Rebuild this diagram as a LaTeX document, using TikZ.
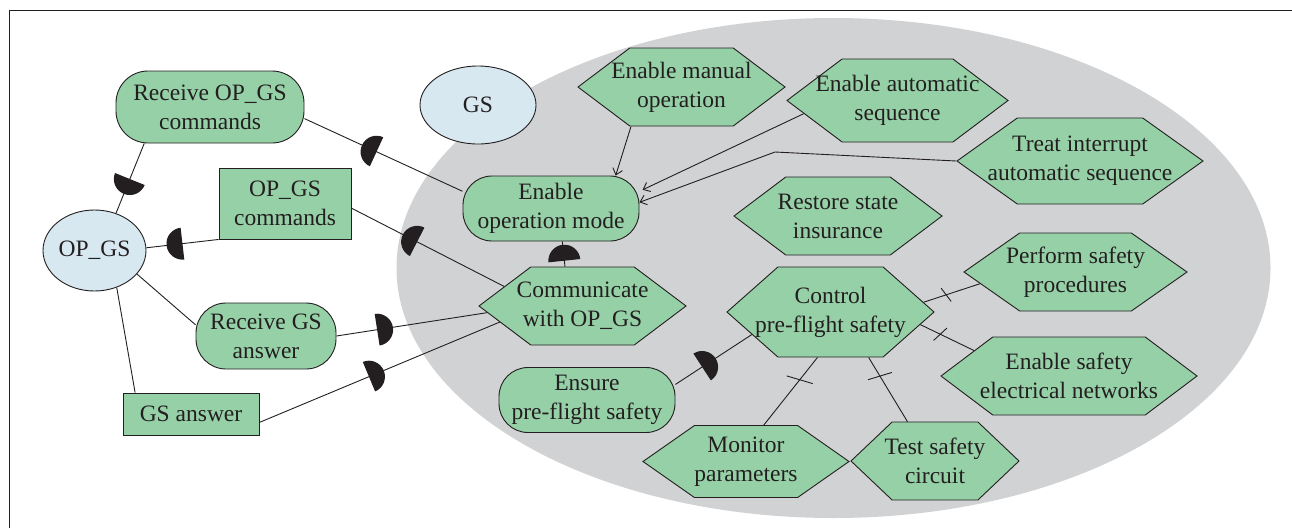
\documentclass[tikz,border=0pt]{standalone}
\usepackage{fontspec}
\setmainfont{Liberation Serif}
\usetikzlibrary{shapes.symbols,shapes.geometric,arrows.meta,decorations.markings,calc}

\definecolor{ink}{HTML}{231F20}
\definecolor{leaf}{HTML}{96D0A7}
\definecolor{sky}{HTML}{D7E8F0}
\definecolor{zone}{HTML}{D1D2D4}

% a text line that takes no width, so the goal outline keeps its own size
\newcommand\hexline[1]{\makebox[0pt]{#1}}

\pgfdeclarelayer{zonelayer}
\pgfdeclarelayer{linklayer}
\pgfsetlayers{zonelayer,linklayer,main}

\tikzset{
  nodebase/.style={draw=ink, line width=0.9pt, text=ink,
    font=\fontsize{23.5}{29}\selectfont, align=center, inner sep=0pt},
  actor/.style={nodebase, ellipse, fill=sky},
  task/.style={nodebase, rectangle, fill=leaf, rounded corners=#1},
  task/.default=29pt,
  datum/.style={nodebase, rectangle, fill=leaf},
  goal/.style={nodebase, signal, signal to=east and west, fill=leaf,
    signal pointer angle=#1},
  goal/.default=74,
  link/.style={draw=ink, line width=0.9pt},
  flow/.style={link, -{Straight Barb[length=6pt,width=10pt]}},
  cup/.style={postaction={decorate, decoration={markings,
    mark=at position #1 with {\fill[ink] (0pt,-16pt)
      arc[start angle=-90,end angle=90,radius=16pt] -- cycle;}}}},
  tickmark/.style={draw=ink, line width=0.9pt},
}

\begin{document}
\begin{tikzpicture}[x=1pt,y=-1pt]
\useasboundingbox (0,0) rectangle (1292,528);

% open frame
\draw[ink, line width=1pt] (9,528) -- (9,10) -- (1292,10);

% system boundary
\begin{pgfonlayer}{zonelayer}
  \fill[zone] (833.5,268) ellipse [x radius=437pt, y radius=250pt];
\end{pgfonlayer}

% actors
\node[actor, minimum width=103pt, minimum height=81pt] (opgs) at (94.5,250.5) {OP\_GS};
\node[actor, minimum width=116pt, minimum height=78pt] (gs) at (478,105) {GS};

% tasks and resources outside the boundary
\node[task=32pt, minimum width=188pt, minimum height=72pt] (recvcmd) at (210,107) {Receive OP\_GS\\commands};
\node[datum, minimum width=132pt, minimum height=71pt] (opcmd) at (285,203.5) {OP\_GS\\commands};
\node[task=30pt, minimum width=140pt, minimum height=66pt] (recvgs) at (266,336) {Receive GS\\answer};
\node[datum, minimum width=136pt, minimum height=42pt] (gsans) at (191,414) {GS answer};

% tasks inside the boundary
\node[task, minimum width=176pt, minimum height=65pt] (enop) at (551,208.5) {Enable\\operation mode};
\node[task, minimum width=176pt, minimum height=65pt] (ensure) at (587,400) {Ensure\\pre-flight safety};

% goals
\node[goal=74, minimum width=207pt, minimum height=78pt] (manual) at (681.5,87)
  {\hexline{Enable manual}\\\hexline{operation}};
\node[goal=74, minimum width=221pt, minimum height=83pt] (autoseq) at (897.5,100.5)
  {\hexline{Enable automatic}\\\hexline{sequence}};
\node[goal=71, minimum width=246pt, minimum height=86pt] (treat) at (1080,161)
  {\hexline{Treat interrupt}\\\hexline{automatic sequence}};
\node[goal=74, minimum width=208pt, minimum height=78pt] (restore) at (838,216)
  {\hexline{Restore state}\\\hexline{insurance}};
\node[goal=74, minimum width=207pt, minimum height=78pt] (comm) at (582.5,306)
  {\hexline{Communicate}\\\hexline{with OP\_GS}};
\node[goal=83, minimum width=207pt, minimum height=90pt] (ctl) at (830.5,312)
  {\hexline{Control}\\\hexline{pre-flight safety}};
\node[goal=70, minimum width=223pt, minimum height=78pt] (perform) at (1075.5,272)
  {\hexline{Perform safety}\\\hexline{procedures}};
\node[goal=74, minimum width=256pt, minimum height=78pt] (elec) at (1069,376)
  {\hexline{Enable safety}\\\hexline{electrical networks}};
\node[goal=70, minimum width=206pt, minimum height=72pt] (monitor) at (746,461.5)
  {\hexline{Monitor}\\\hexline{parameters}};
\node[goal=87, minimum width=168pt, minimum height=78pt] (testc) at (935,461)
  {\hexline{Test safety}\\\hexline{circuit}};

\coordinate (kink) at (775,152);

\begin{pgfonlayer}{linklayer}
  % dependencies
  \draw[link, cup=0.51] (recvcmd.209) -- (opgs.60);
  \draw[link, cup=0.544] (enop.169) -- (recvcmd.-7);
  \draw[link, cup=0.5] (opcmd.south west) -- (opgs.3);
  \draw[link, cup=0.57] (comm.166) -- (opcmd.-4);
  \draw[link, cup=6pt] (comm.114) -- (enop.-71);
  \draw[link, cup=0.27] (recvgs.east) -- (comm.184);
  \draw[link, cup=0.456] (gsans.-7) -- (comm.191);
  \draw[link, cup=0.35] (ensure.10) -- (ctl.196);
  % plain links
  \draw[link] (opgs.-29) -- (recvgs.171);
  \draw[link] (opgs.-59) -- (gsans.159);
  % contributions
  \draw[flow] (manual.218) -- (enop.27);
  \draw[flow, shorten >=3.5pt] (autoseq.188) -- (enop.11);
  \draw[flow] (treat.west) -- (kink) -- (enop.4);
  % decompositions
  \draw[link] (ctl.6) -- coordinate[pos=0.4] (t1) (perform.187);
  \draw[link] (ctl.-8) -- coordinate[pos=0.37] (t2) (elec.165);
  \draw[link] (ctl.254) -- coordinate[pos=0.33] (t3) (monitor.64);
  \draw[link] (ctl.-50) -- coordinate[pos=0.29] (t4) (testc.125);
  \draw[tickmark] ($(t1)+(-5,-6.65)$) -- ($(t1)+(5,6.65)$);
  \draw[tickmark] ($(t2)+(-6.7,6.2)$) -- ($(t2)+(6.7,-6.2)$);
  \draw[tickmark] ($(t3)+(-13,-3.85)$) -- ($(t3)+(13,3.85)$);
  \draw[tickmark] ($(t4)+(-12,3.65)$) -- ($(t4)+(12,-3.65)$);
\end{pgfonlayer}
\end{tikzpicture}
\end{document}
